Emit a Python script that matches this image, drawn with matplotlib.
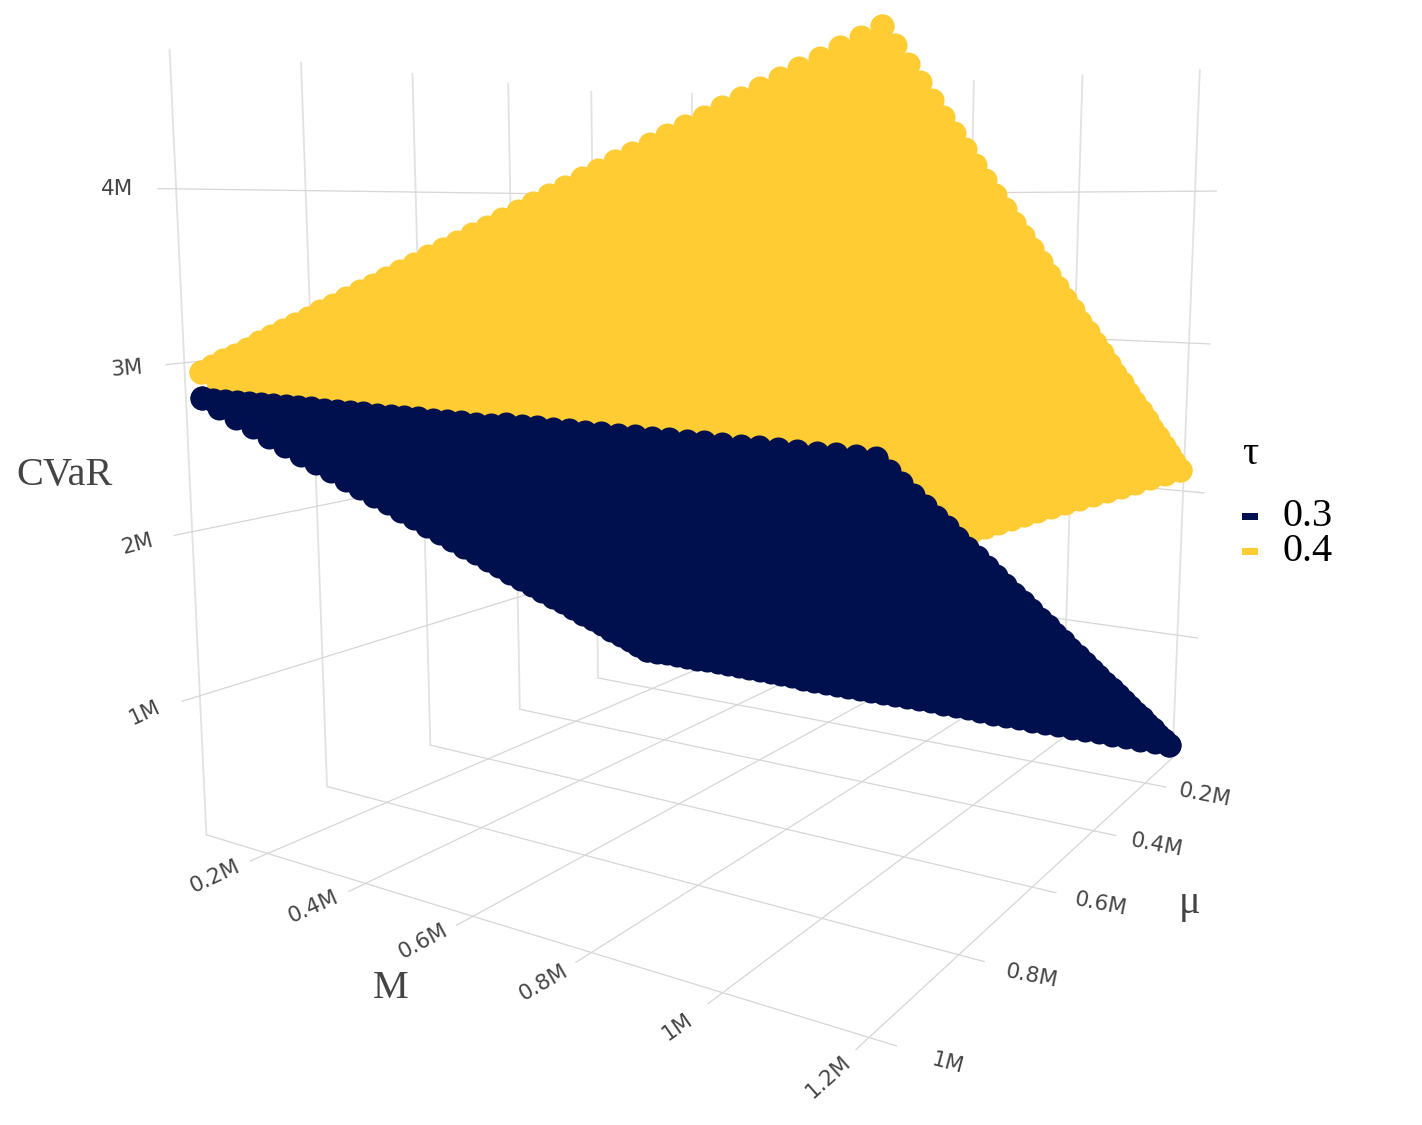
import numpy as np
import matplotlib
matplotlib.use("Agg")
import matplotlib.pyplot as plt
from matplotlib.patches import Rectangle
from mpl_toolkits.mplot3d.art3d import Poly3DCollection

# alle Werte in Millionen
M_levels = [0.100, 0.125, 0.150, 0.175, 0.200, 0.225, 0.250, 0.275, 0.300, 0.325, 0.350, 0.375,
            0.400, 0.425, 0.450, 0.475, 0.500, 0.525, 0.550, 0.575, 0.600, 0.625, 0.650, 0.675,
            0.700, 0.725, 0.750, 0.775, 0.800, 0.825, 0.850, 0.875, 0.900, 0.925, 0.950, 0.975,
            1.000, 1.025, 1.050, 1.075, 1.100, 1.125, 1.150, 1.175, 1.200]
mu_levels = [0.100, 0.125, 0.150, 0.175, 0.200, 0.225, 0.250, 0.275, 0.300, 0.325, 0.350, 0.375,
             0.400, 0.425, 0.450, 0.475, 0.500, 0.525, 0.550, 0.575, 0.600, 0.625, 0.650, 0.675,
             0.700, 0.725, 0.750, 0.775, 0.800, 0.825, 0.850, 0.875, 0.900, 0.925, 0.950, 0.975,
             1.000]

# CVaR an den vier Raendern der Flaeche, tau = 0.4
y_front = [2.954, 2.992, 3.031, 3.069, 3.107, 3.146, 3.184, 3.222, 3.261, 3.299, 3.337, 3.376,
           3.414, 3.452, 3.490, 3.529, 3.567, 3.605, 3.644, 3.682, 3.720, 3.759, 3.797, 3.835,
           3.874, 3.912, 3.950, 3.989, 4.027, 4.065, 4.104, 4.142, 4.180, 4.218, 4.257, 4.295,
           4.333, 4.372, 4.410, 4.448, 4.487, 4.525, 4.563, 4.602, 4.640]
y_rear = [0.470, 0.508, 0.547, 0.585, 0.624, 0.662, 0.700, 0.739, 0.777, 0.816, 0.854, 0.892,
          0.931, 0.969, 1.008, 1.046, 1.085, 1.123, 1.161, 1.200, 1.238, 1.277, 1.315, 1.353,
          1.392, 1.430, 1.469, 1.507, 1.545, 1.584, 1.622, 1.661, 1.699, 1.737, 1.776, 1.814,
          1.853, 1.891, 1.930, 1.968, 2.006, 2.045, 2.083, 2.122, 2.160]
y_right = [2.160, 2.229, 2.298, 2.367, 2.436, 2.504, 2.573, 2.642, 2.711, 2.780, 2.849, 2.918,
           2.987, 3.056, 3.124, 3.193, 3.262, 3.331, 3.400, 3.469, 3.538, 3.607, 3.676, 3.744,
           3.813, 3.882, 3.951, 4.020, 4.089, 4.158, 4.227, 4.296, 4.364, 4.433, 4.502, 4.571,
           4.640]
y_left = [0.470, 0.539, 0.608, 0.677, 0.746, 0.815, 0.884, 0.953, 1.022, 1.091, 1.160, 1.229,
          1.298, 1.367, 1.436, 1.505, 1.574, 1.643, 1.712, 1.781, 1.850, 1.919, 1.988, 2.057,
          2.126, 2.195, 2.264, 2.333, 2.402, 2.471, 2.540, 2.609, 2.678, 2.747, 2.816, 2.885,
          2.954]

# CVaR an den vier Raendern der Flaeche, tau = 0.3
n_front = [2.80] * 23 + [2.81] * 22
n_rear = [0.27] * 15 + [0.26] * 15 + [0.25] * 15
n_right = [0.250, 0.321, 0.392, 0.463, 0.534, 0.605, 0.676, 0.747, 0.818, 0.889, 0.960, 1.031,
           1.102, 1.173, 1.244, 1.315, 1.386, 1.457, 1.528, 1.599, 1.670, 1.741, 1.812, 1.883,
           1.955, 2.026, 2.097, 2.168, 2.239, 2.310, 2.381, 2.452, 2.523, 2.594, 2.665, 2.736,
           2.807]
n_left = [0.270, 0.340, 0.411, 0.481, 0.551, 0.621, 0.692, 0.762, 0.832, 0.903, 0.973, 1.043,
          1.113, 1.184, 1.254, 1.324, 1.394, 1.465, 1.535, 1.605, 1.676, 1.746, 1.816, 1.886,
          1.957, 2.027, 2.097, 2.167, 2.238, 2.308, 2.378, 2.449, 2.519, 2.589, 2.659, 2.730,
          2.800]

M_ticks = [0.2, 0.4, 0.6, 0.8, 1.0, 1.2]
mu_ticks = [0.2, 0.4, 0.6, 0.8, 1.0]
z_ticks = [1, 2, 3, 4]
M_range = (0.065, 1.235)
mu_range = (0.08, 1.026)
z_range = (0.13, 4.78)

WIDTH, HEIGHT = 1422, 1125
NAVY = '#00104F'
YELLOW = '#FFCC33'

# Kamera aus dem Bild bestimmt: (M, mu, CVaR) -> Pixel
camera = np.array([[275.8698, -515.833, -7.19311, 642.6773],
                   [-31.94246, -61.37628, -118.1838, 660.5866],
                   [-0.1507781, -0.2919752, -0.009873028, 1.0]])

fig = plt.figure(figsize=(WIDTH / 100, HEIGHT / 100), dpi=100)
ax = fig.add_axes([130 / WIDTH, 0, HEIGHT / WIDTH, 1], projection='3d', computed_zorder=False)
ax.set_axis_off()
ax.set_proj_type('ortho')
ax.apply_aspect()

flip = np.array([[1, 0, 0], [0, -1, HEIGHT], [0, 0, 1]])
view = ax.transData.inverted().get_matrix() @ flip @ camera
depth = np.linalg.svd(view)[2][-1]
proj_matrix = np.vstack([view[0], view[1], depth, view[2]])
ax.get_proj = lambda: proj_matrix


def grid_line(xs, ys, zs, upright=False):
    if upright:
        ax.plot(xs, ys, zs, color='#e2e2e2', lw=1.3, zorder=1)
    else:
        ax.plot(xs, ys, zs, color='#d6d6d6', lw=0.9, zorder=1)


m0, m1 = M_range
u0, u1 = mu_range
z0, z1 = z_range
for m in M_ticks:
    grid_line([m, m], [u1, u0], [z0, z0])
    grid_line([m, m], [u0, u0], [z0, z1], upright=True)
for u in mu_ticks:
    grid_line([m1, m0], [u, u], [z0, z0])
    grid_line([m0, m0], [u, u], [z0, z1], upright=True)
for z in z_ticks:
    grid_line([m0, m0, m1], [u1, u0, u0], [z, z, z])


def surface(front, rear, right, left, color, order):
    # Flaeche zwischen den Raendern fuellen, die Punkte sitzen am Rand
    corners = [(M_levels[0], mu_levels[-1], front[0]), (M_levels[-1], mu_levels[-1], front[-1]),
               (M_levels[-1], mu_levels[0], rear[-1]), (M_levels[0], mu_levels[0], rear[0])]
    poly = Poly3DCollection([corners], facecolors=color, edgecolors='none', linewidths=0, zorder=order)
    ax.add_collection3d(poly)
    xs = M_levels + M_levels + [M_levels[-1]] * len(mu_levels) + [M_levels[0]] * len(mu_levels)
    ys = [mu_levels[-1]] * len(M_levels) + [mu_levels[0]] * len(M_levels) + mu_levels + mu_levels
    zs = front + rear + right + left
    ax.scatter(xs, ys, zs, s=300, c=color, linewidths=0, depthshade=False, zorder=order)


surface(y_front, y_rear, y_right, y_left, YELLOW, 2)
surface(n_front, n_rear, n_right, n_left, NAVY, 3)


def px_text(x, y, s, **kw):
    fig.text(x / WIDTH, 1 - y / HEIGHT, s, ha='center', va='center', **kw)


tick_style = dict(fontsize=15.5, color='#444444', family='DejaVu Sans')
M_tick_text = ['0.2M', '0.4M', '0.6M', '0.8M', '1M', '1.2M']
for s, x, y, r in zip(M_tick_text, [215, 313, 423, 543, 677, 828], [876, 907, 941, 983, 1027, 1077],
                      [25, 24, 28, 30, 35, 42]):
    px_text(x, y, s, rotation=r, **tick_style)
mu_tick_text = ['0.2M', '0.4M', '0.6M', '0.8M', '1M']
for s, x, y, r in zip(mu_tick_text, [1205, 1157, 1101, 1032, 948], [795, 845, 904, 976, 1063],
                      [-11, -11, -11, -11, -15]):
    px_text(x, y, s, rotation=r, **tick_style)
z_tick_text = ['4M', '3M', '2M', '1M']
for s, x, y, r in zip(z_tick_text, [117, 127, 137, 145], [189, 369, 544, 713], [0, 5, 15, 25]):
    px_text(x, y, s, rotation=r, **tick_style)

title_style = dict(fontsize=29, color='#444444', family='Liberation Serif')
px_text(65, 475, 'CVaR', **title_style)
px_text(391, 988, 'M', **title_style)
px_text(1190, 903, 'μ', **title_style)

legend_style = dict(fontsize=29, color='black', family='Liberation Serif')
px_text(1250, 455, 'τ', **legend_style)
px_text(1308, 516, '0.3', **legend_style)
px_text(1308, 552, '0.4', **legend_style)
for y, color in [(513, NAVY), (548, YELLOW)]:
    fig.add_artist(Rectangle((1242 / WIDTH, 1 - (y + 7) / HEIGHT), 16 / WIDTH, 7 / HEIGHT,
                             transform=fig.transFigure, facecolor=color, edgecolor='none'))

fig.savefig("out.png", dpi=100)
